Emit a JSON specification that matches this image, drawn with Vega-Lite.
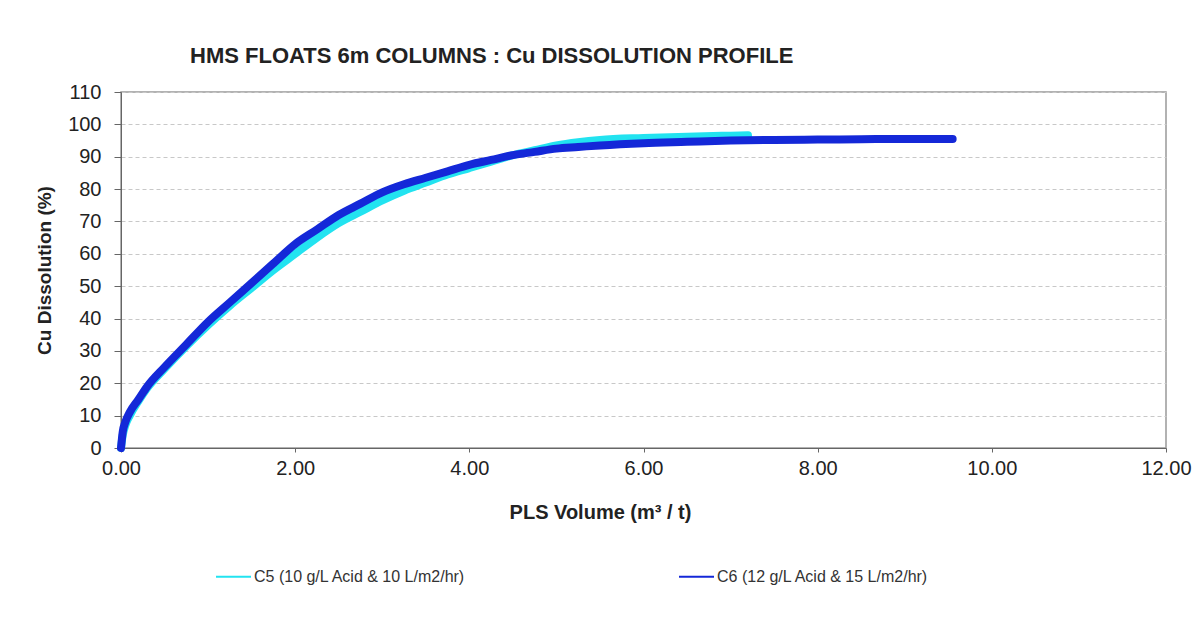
{
  "$schema": "https://vega.github.io/schema/vega-lite/v6.json",
  "width": 1045,
  "height": 356,
  "autosize": "none",
  "padding": {"left": 121, "top": 92, "right": 36, "bottom": 173},
  "background": "white",
  "title": {
    "text": "HMS FLOATS 6m COLUMNS :  Cu DISSOLUTION PROFILE",
    "anchor": "start",
    "frame": "group",
    "dx": 69,
    "offset": 14,
    "font": "Liberation Sans",
    "fontSize": 22,
    "fontWeight": "bold",
    "color": "#222222"
  },
  "data": {
    "values": [
      {"series": "C5 (10 g/L Acid & 10 L/m2/hr)", "x": 0.0, "y": 0.0},
      {"series": "C5 (10 g/L Acid & 10 L/m2/hr)", "x": 0.02, "y": 4.0},
      {"series": "C5 (10 g/L Acid & 10 L/m2/hr)", "x": 0.05, "y": 7.0},
      {"series": "C5 (10 g/L Acid & 10 L/m2/hr)", "x": 0.1, "y": 10.0},
      {"series": "C5 (10 g/L Acid & 10 L/m2/hr)", "x": 0.2, "y": 14.5},
      {"series": "C5 (10 g/L Acid & 10 L/m2/hr)", "x": 0.3, "y": 18.5},
      {"series": "C5 (10 g/L Acid & 10 L/m2/hr)", "x": 0.5, "y": 24.5},
      {"series": "C5 (10 g/L Acid & 10 L/m2/hr)", "x": 0.75, "y": 31.5},
      {"series": "C5 (10 g/L Acid & 10 L/m2/hr)", "x": 1.0, "y": 38.0},
      {"series": "C5 (10 g/L Acid & 10 L/m2/hr)", "x": 1.25, "y": 44.0},
      {"series": "C5 (10 g/L Acid & 10 L/m2/hr)", "x": 1.5, "y": 49.5},
      {"series": "C5 (10 g/L Acid & 10 L/m2/hr)", "x": 1.75, "y": 55.0},
      {"series": "C5 (10 g/L Acid & 10 L/m2/hr)", "x": 2.0, "y": 60.0},
      {"series": "C5 (10 g/L Acid & 10 L/m2/hr)", "x": 2.25, "y": 65.0},
      {"series": "C5 (10 g/L Acid & 10 L/m2/hr)", "x": 2.5, "y": 69.5},
      {"series": "C5 (10 g/L Acid & 10 L/m2/hr)", "x": 2.75, "y": 73.0},
      {"series": "C5 (10 g/L Acid & 10 L/m2/hr)", "x": 3.0, "y": 76.5},
      {"series": "C5 (10 g/L Acid & 10 L/m2/hr)", "x": 3.25, "y": 79.5},
      {"series": "C5 (10 g/L Acid & 10 L/m2/hr)", "x": 3.5, "y": 82.0},
      {"series": "C5 (10 g/L Acid & 10 L/m2/hr)", "x": 3.75, "y": 84.5},
      {"series": "C5 (10 g/L Acid & 10 L/m2/hr)", "x": 4.0, "y": 86.5},
      {"series": "C5 (10 g/L Acid & 10 L/m2/hr)", "x": 4.25, "y": 88.5},
      {"series": "C5 (10 g/L Acid & 10 L/m2/hr)", "x": 4.5, "y": 90.5},
      {"series": "C5 (10 g/L Acid & 10 L/m2/hr)", "x": 4.75, "y": 92.0},
      {"series": "C5 (10 g/L Acid & 10 L/m2/hr)", "x": 5.0, "y": 93.5},
      {"series": "C5 (10 g/L Acid & 10 L/m2/hr)", "x": 5.25, "y": 94.5},
      {"series": "C5 (10 g/L Acid & 10 L/m2/hr)", "x": 5.5, "y": 95.2},
      {"series": "C5 (10 g/L Acid & 10 L/m2/hr)", "x": 6.0, "y": 95.8},
      {"series": "C5 (10 g/L Acid & 10 L/m2/hr)", "x": 6.5, "y": 96.2},
      {"series": "C5 (10 g/L Acid & 10 L/m2/hr)", "x": 7.0, "y": 96.5},
      {"series": "C5 (10 g/L Acid & 10 L/m2/hr)", "x": 7.2, "y": 96.6},
      {"series": "C6 (12 g/L Acid & 15 L/m2/hr)", "x": 0.0, "y": 0.0},
      {"series": "C6 (12 g/L Acid & 15 L/m2/hr)", "x": 0.02, "y": 5.0},
      {"series": "C6 (12 g/L Acid & 15 L/m2/hr)", "x": 0.05, "y": 8.0},
      {"series": "C6 (12 g/L Acid & 15 L/m2/hr)", "x": 0.1, "y": 11.0},
      {"series": "C6 (12 g/L Acid & 15 L/m2/hr)", "x": 0.2, "y": 15.0},
      {"series": "C6 (12 g/L Acid & 15 L/m2/hr)", "x": 0.3, "y": 19.0},
      {"series": "C6 (12 g/L Acid & 15 L/m2/hr)", "x": 0.5, "y": 25.0},
      {"series": "C6 (12 g/L Acid & 15 L/m2/hr)", "x": 0.75, "y": 32.0},
      {"series": "C6 (12 g/L Acid & 15 L/m2/hr)", "x": 1.0, "y": 39.0},
      {"series": "C6 (12 g/L Acid & 15 L/m2/hr)", "x": 1.25, "y": 45.0},
      {"series": "C6 (12 g/L Acid & 15 L/m2/hr)", "x": 1.5, "y": 51.0},
      {"series": "C6 (12 g/L Acid & 15 L/m2/hr)", "x": 1.75, "y": 57.0},
      {"series": "C6 (12 g/L Acid & 15 L/m2/hr)", "x": 2.0, "y": 63.0},
      {"series": "C6 (12 g/L Acid & 15 L/m2/hr)", "x": 2.25, "y": 67.5},
      {"series": "C6 (12 g/L Acid & 15 L/m2/hr)", "x": 2.5, "y": 72.0},
      {"series": "C6 (12 g/L Acid & 15 L/m2/hr)", "x": 2.75, "y": 75.5},
      {"series": "C6 (12 g/L Acid & 15 L/m2/hr)", "x": 3.0, "y": 79.0},
      {"series": "C6 (12 g/L Acid & 15 L/m2/hr)", "x": 3.25, "y": 81.5},
      {"series": "C6 (12 g/L Acid & 15 L/m2/hr)", "x": 3.5, "y": 83.5},
      {"series": "C6 (12 g/L Acid & 15 L/m2/hr)", "x": 3.75, "y": 85.5},
      {"series": "C6 (12 g/L Acid & 15 L/m2/hr)", "x": 4.0, "y": 87.5},
      {"series": "C6 (12 g/L Acid & 15 L/m2/hr)", "x": 4.25, "y": 89.0},
      {"series": "C6 (12 g/L Acid & 15 L/m2/hr)", "x": 4.5, "y": 90.5},
      {"series": "C6 (12 g/L Acid & 15 L/m2/hr)", "x": 4.75, "y": 91.5},
      {"series": "C6 (12 g/L Acid & 15 L/m2/hr)", "x": 5.0, "y": 92.5},
      {"series": "C6 (12 g/L Acid & 15 L/m2/hr)", "x": 5.25, "y": 93.0},
      {"series": "C6 (12 g/L Acid & 15 L/m2/hr)", "x": 5.5, "y": 93.5},
      {"series": "C6 (12 g/L Acid & 15 L/m2/hr)", "x": 6.0, "y": 94.2},
      {"series": "C6 (12 g/L Acid & 15 L/m2/hr)", "x": 6.5, "y": 94.6},
      {"series": "C6 (12 g/L Acid & 15 L/m2/hr)", "x": 7.0, "y": 95.0},
      {"series": "C6 (12 g/L Acid & 15 L/m2/hr)", "x": 7.5, "y": 95.2},
      {"series": "C6 (12 g/L Acid & 15 L/m2/hr)", "x": 8.0, "y": 95.3},
      {"series": "C6 (12 g/L Acid & 15 L/m2/hr)", "x": 8.5, "y": 95.4},
      {"series": "C6 (12 g/L Acid & 15 L/m2/hr)", "x": 9.0, "y": 95.5},
      {"series": "C6 (12 g/L Acid & 15 L/m2/hr)", "x": 9.55, "y": 95.5}
    ]
  },
  "mark": {"type": "line", "strokeWidth": 8, "strokeCap": "round", "strokeJoin": "round", "interpolate": "monotone"},
  "encoding": {
    "x": {
      "field": "x",
      "type": "quantitative",
      "scale": {"domain": [0, 12], "nice": false, "zero": true},
      "axis": {
        "title": "PLS Volume (m³ / t)",
        "values": [0, 2, 4, 6, 8, 10, 12],
        "format": ".2f",
        "grid": false,
        "tickSize": 4,
        "tickColor": "#666666",
        "domainColor": "#666666",
        "labelFont": "Liberation Sans",
        "labelFontSize": 20,
        "labelColor": "#222222",
        "labelPadding": 6,
        "labelFlush": false,
        "titleFont": "Liberation Sans",
        "titleFontSize": 20,
        "titleFontWeight": "bold",
        "titleColor": "#222222",
        "titlePadding": 24,
        "titleX": 479
      }
    },
    "y": {
      "field": "y",
      "type": "quantitative",
      "scale": {"domain": [0, 110], "nice": false},
      "axis": {
        "title": "Cu Dissolution (%)",
        "values": [0, 10, 20, 30, 40, 50, 60, 70, 80, 90, 100, 110],
        "grid": true,
        "gridDash": [4, 3],
        "gridColor": "#c8c8c8",
        "tickSize": 7,
        "tickColor": "#666666",
        "domainColor": "#666666",
        "labelFont": "Liberation Sans",
        "labelFontSize": 20,
        "labelColor": "#222222",
        "labelPadding": 13,
        "labelFlush": false,
        "titleFont": "Liberation Sans",
        "titleFontSize": 19,
        "titleFontWeight": "bold",
        "titleColor": "#222222",
        "titlePadding": 13
      }
    },
    "color": {
      "field": "series",
      "type": "nominal",
      "scale": {
        "domain": ["C5 (10 g/L Acid & 10 L/m2/hr)", "C6 (12 g/L Acid & 15 L/m2/hr)"],
        "range": ["#22E3F0", "#1428D8"]
      },
      "legend": {
        "title": null,
        "orient": "none",
        "legendX": 94,
        "legendY": 466,
        "direction": "horizontal",
        "symbolType": "stroke",
        "symbolStrokeWidth": 2,
        "symbolSize": 1225,
        "labelFont": "Liberation Sans",
        "labelFontSize": 16,
        "labelColor": "#333333",
        "labelOffset": 2,
        "labelLimit": 500,
        "columnPadding": 209
      }
    }
  },
  "config": {
    "view": {"stroke": "#999999", "strokeWidth": 1.5}
  }
}
